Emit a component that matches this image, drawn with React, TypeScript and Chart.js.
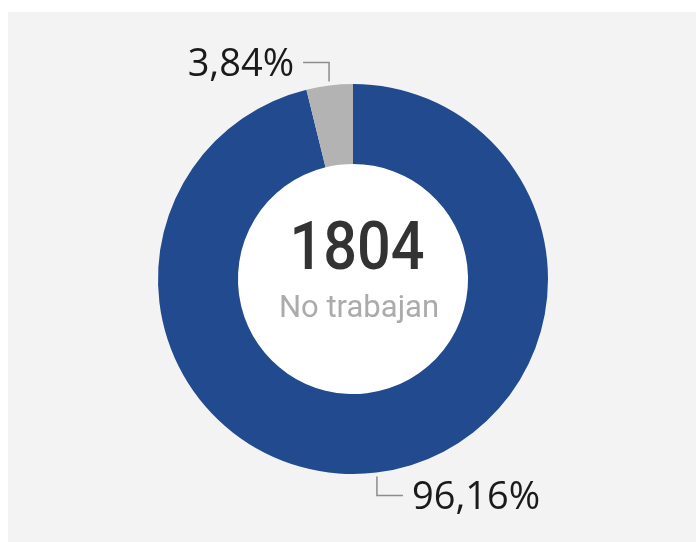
import React, { useEffect, useRef } from "react";
import { Chart, registerables } from "chart.js";

Chart.register(...registerables);

const categories = ["No trabajan", "Trabajan"];
const values = [1804, 72];
const colors = ["#224a8f", "#b3b3b3"];
const centerValue = "1804";
const centerLabel = "No trabajan";

const fmtPct = (v: number, total: number) =>
  ((v / total) * 100).toFixed(2).replace(".", ",") + "%";

const donutDecor = {
  id: "donutDecor",
  beforeDatasetsDraw(chart: any) {
    const ctx = chart.ctx;
    const arc = chart.getDatasetMeta(0).data[0];
    if (!arc) return;
    const { x, y, innerRadius } = arc.getProps(["x", "y", "innerRadius"], true);
    ctx.save();
    ctx.fillStyle = "#ffffff";
    ctx.beginPath();
    ctx.arc(x, y, innerRadius, 0, Math.PI * 2);
    ctx.fill();
    ctx.restore();
  },
  afterDatasetsDraw(chart: any) {
    const ctx = chart.ctx;
    const meta = chart.getDatasetMeta(0);
    const data = chart.data.datasets[0].data as number[];
    const total = data.reduce((a, b) => a + b, 0);
    ctx.save();
    meta.data.forEach((el: any, i: number) => {
      const { x, y, startAngle, endAngle, outerRadius } = el.getProps(
        ["x", "y", "startAngle", "endAngle", "outerRadius"],
        true
      );
      const mid = (startAngle + endAngle) / 2;
      const c = Math.cos(mid);
      const s = Math.sin(mid);
      const p0x = x + c * (outerRadius + 4);
      const p0y = y + s * (outerRadius + 4);
      const sv = s < 0 ? -1 : 1;
      const sh = c < 0 ? -1 : 1;
      const p1y = p0y + sv * 19;
      const p2x = p0x + sh * 26;
      ctx.strokeStyle = "#8c8c8c";
      ctx.lineWidth = 1.5;
      ctx.beginPath();
      ctx.moveTo(p0x, p0y);
      ctx.lineTo(p0x, p1y);
      ctx.lineTo(p2x, p1y);
      ctx.stroke();
      ctx.fillStyle = "#1a1a1a";
      ctx.font = "38px 'Open Sans'";
      ctx.textAlign = sh > 0 ? "left" : "right";
      ctx.textBaseline = "middle";
      ctx.fillText(fmtPct(data[i], total), p2x + sh * 9, p1y + 3);
    });
    const first = meta.data[0];
    if (first) {
      const { x, y } = first.getProps(["x", "y"], true);
      ctx.textAlign = "center";
      ctx.textBaseline = "alphabetic";
      ctx.fillStyle = "#333333";
      ctx.save();
      ctx.translate(x + 4, y - 10);
      ctx.scale(0.9, 1);
      ctx.font = "500 66px Roboto";
      ctx.fillText(centerValue, 0, 0);
      ctx.restore();
      ctx.fillStyle = "#ababab";
      ctx.font = "31px Roboto";
      ctx.fillText(centerLabel, x + 6, y + 38);
    }
    ctx.restore();
  },
};

export default function App() {
  const canvasRef = useRef<HTMLCanvasElement>(null);
  useEffect(() => {
    if (!canvasRef.current) return;
    const chart = new Chart(canvasRef.current, {
      type: "doughnut",
      data: {
        labels: categories,
        datasets: [
          {
            data: values,
            backgroundColor: colors,
            borderWidth: 0,
          },
        ],
      },
      options: {
        animation: false,
        responsive: true,
        maintainAspectRatio: false,
        cutout: "59%",
        layout: { padding: { left: 150, right: 148, top: 72, bottom: 68 } },
        plugins: {
          legend: { display: false },
          tooltip: { enabled: false },
          title: { display: false },
        },
      },
      plugins: [donutDecor],
    });
    return () => chart.destroy();
  }, []);
  return (
    <div
      style={{
        position: "fixed",
        left: 8,
        top: 12,
        right: 0,
        bottom: 0,
        background: "#f3f3f3",
      }}
    >
      <div style={{ position: "relative", width: 688, height: 530 }}>
        <canvas ref={canvasRef} />
      </div>
    </div>
  );
}
